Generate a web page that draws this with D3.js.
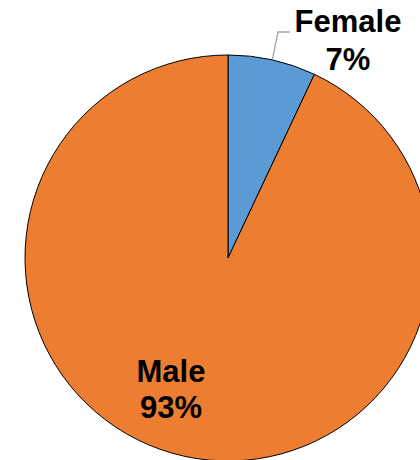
<!DOCTYPE html>
<html><head><meta charset="utf-8">
<script src="https://cdn.jsdelivr.net/npm/d3@7"></script>
<style>body{margin:0;background:#fff}svg{display:block}</style>
</head><body>
<svg id="c" width="420" height="460"></svg>
<script>
const categories = ["Female", "Male"];
const values = [7, 93];
const labels = ["7%", "93%"];
const colors = ["#5B9BD5", "#ED7D31"];

const svg = d3.select("#c");
const cx = 228, cy = 258, R = 203;
const pie = d3.pie().sort(null).value(d => d)(values);
const arc = d3.arc().innerRadius(0).outerRadius(R);
const g = svg.append("g").attr("transform", `translate(${cx},${cy})`);
g.selectAll("path").data(pie).join("path")
  .attr("d", arc)
  .attr("fill", (d, i) => colors[i])
  .attr("stroke", "#000").attr("stroke-width", 1);

// leader line for Female
const fa = pie[0];
const midA = (fa.startAngle + fa.endAngle) / 2;
const p0 = [Math.sin(midA) * (R + 1), -Math.cos(midA) * (R + 1)];
svg.append("polyline")
  .attr("points", [[cx + p0[0], cy + p0[1]], [278, 32], [290, 32]].map(p => p.join(",")).join(" "))
  .attr("fill", "none").attr("stroke", "#A6A6A6").attr("stroke-width", 1.3);

const font = "'Liberation Sans', Arial, sans-serif";
const labelPos = [[348, 32, 70], [171, 382, 418]];
categories.forEach((c, i) => {
  const [x, y1, y2] = labelPos[i];
  const t = svg.append("text").attr("text-anchor", "middle")
    .attr("font-family", font).attr("font-weight", "bold").attr("font-size", 31).attr("fill", "#000");
  t.append("tspan").attr("x", x).attr("y", y1).text(c);
  t.append("tspan").attr("x", x).attr("y", y2).text(labels[i]);
});
</script>
</body></html>
